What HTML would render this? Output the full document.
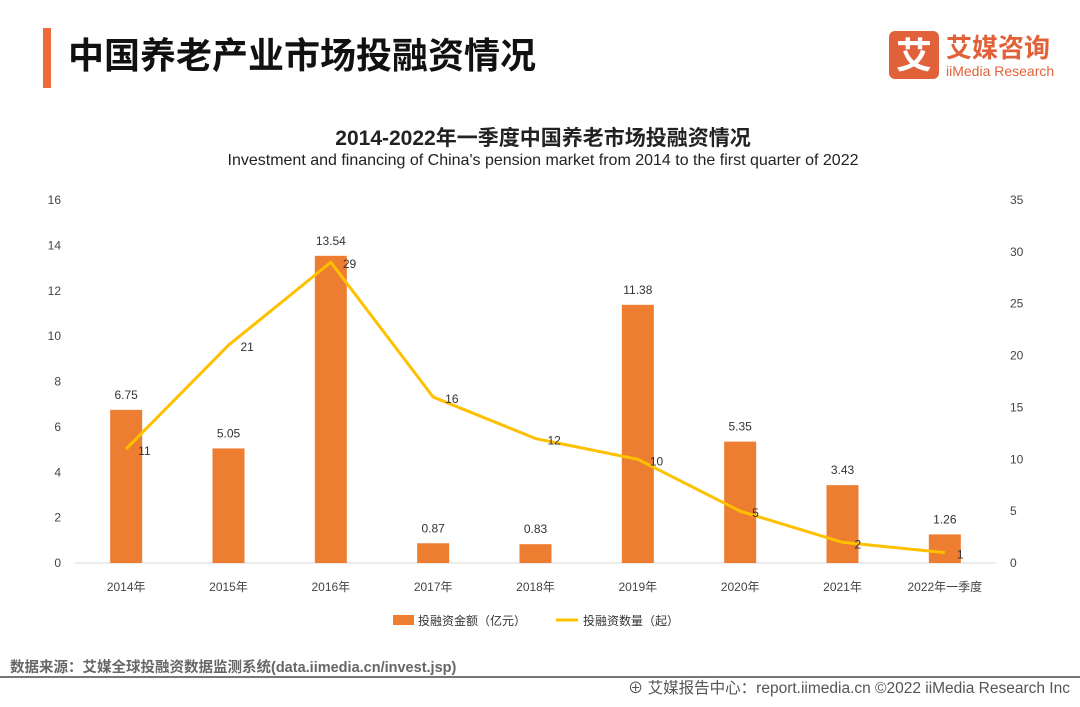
<!DOCTYPE html>
<html><head><meta charset="utf-8"><style>
body{margin:0;background:#fff;}
svg text{font-family:"Liberation Sans","Noto Sans CJK SC",sans-serif;}
</style></head><body>
<svg id="c" width="1080" height="702" viewBox="0 0 1080 702" xmlns="http://www.w3.org/2000/svg">
<rect x="43" y="28" width="8" height="60" fill="#ED6A3A"/>
<text x="68" y="68" font-size="36" font-weight="bold" fill="#111">中国养老产业市场投融资情况</text>
<g>
<rect x="889" y="31" width="50" height="48" rx="6" fill="#E1623A"/>
<text x="914" y="68" font-size="36" font-weight="bold" fill="#fff" text-anchor="middle">艾</text>
<text x="946" y="57" font-size="26" font-weight="bold" fill="#E1623A">艾媒咨询</text>
<text x="946" y="76" font-size="14" fill="#E1623A">iiMedia Research</text>
</g>
<text x="543" y="145" font-size="21" font-weight="bold" fill="#222" text-anchor="middle">2014-2022年一季度中国养老市场投融资情况</text>
<text x="543" y="165" font-size="16" fill="#222" text-anchor="middle">Investment and financing of China's pension market from 2014 to the first quarter of 2022</text>
<g id="plot"></g>
<g>
<rect x="393" y="615" width="21" height="10" fill="#ED7D31"/>
<text x="418" y="625" font-size="12" fill="#333">投融资金额（亿元）</text>
<line x1="556" y1="620" x2="578" y2="620" stroke="#FFC000" stroke-width="3"/>
<text x="583" y="625" font-size="12" fill="#333">投融资数量（起）</text>
</g>
<text x="10" y="672" font-size="14.5" font-weight="bold" fill="#666">数据来源：艾媒全球投融资数据监测系统(data.iimedia.cn/invest.jsp)</text>
<line x1="0" y1="677" x2="1080" y2="677" stroke="#777" stroke-width="2"/>
<text x="1070" y="693" font-size="15.5" fill="#555" text-anchor="end">⊕ 艾媒报告中心：report.iimedia.cn   ©2022  iiMedia Research  Inc</text>
</svg>
<script>
const categories=["2014年","2015年","2016年","2017年","2018年","2019年","2020年","2021年","2022年一季度"];
const amounts=[6.75,5.05,13.54,0.87,0.83,11.38,5.35,3.43,1.26];
const counts=[11,21,29,16,12,10,5,2,1];
const leftTicks=[0,2,4,6,8,10,12,14,16];
const rightTicks=[0,5,10,15,20,25,30,35];
const NS="http://www.w3.org/2000/svg";
const g=document.getElementById('plot');
const x0=75,x1=996,yB=563,yT=200;
const step=(x1-x0)/categories.length;
const xc=i=>x0+step*(i+0.5);
const yL=v=>yB-(v/16)*(yB-yT);
const yR=v=>yB-(v/35)*(yB-yT);
function mk(t,a){const e=document.createElementNS(NS,t);for(const k in a)e.setAttribute(k,a[k]);g.appendChild(e);return e;}
let ax=mk('line',{x1:x0,y1:yB,x2:x1,y2:yB,stroke:'#d9d9d9'});


leftTicks.forEach(v=>{const t=mk('text',{x:61,y:yL(v)+4,'font-size':12,fill:'#444','text-anchor':'end'});t.textContent=v;

});
rightTicks.forEach(v=>{const t=mk('text',{x:1010,y:yR(v)+4,'font-size':12,fill:'#444'});t.textContent=v;

});
categories.forEach((c,i)=>{const t=mk('text',{x:xc(i),y:591,'font-size':12,fill:'#444','text-anchor':'middle'});t.textContent=c;

});
amounts.forEach((v,i)=>{const r=mk('rect',{x:xc(i)-16,y:yL(v),width:32,height:yB-yL(v),fill:'#ED7D31'});


const t=mk('text',{x:xc(i),y:yL(v)-11,'font-size':12,fill:'#333','text-anchor':'middle'});t.textContent=v;

});
const pl=mk('polyline',{points:counts.map((v,i)=>xc(i)+','+yR(v)).join(' '),fill:'none',stroke:'#FFC000','stroke-width':3,'stroke-linejoin':'round'});


counts.forEach((v,i)=>{const t=mk('text',{x:xc(i)+12,y:yR(v)+6,'font-size':12,fill:'#333'});t.textContent=v;

});
</script>
</body></html>
